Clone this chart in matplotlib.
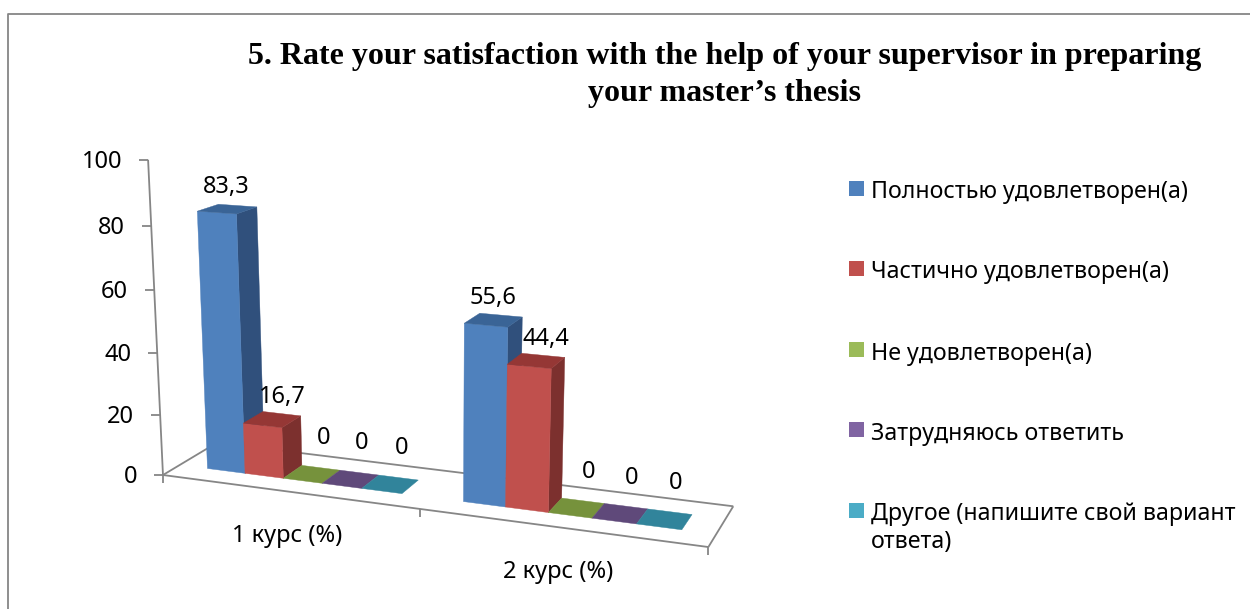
import matplotlib
matplotlib.use('Agg')
import matplotlib.pyplot as plt
from matplotlib.patches import Polygon, Rectangle
import numpy as np

# data
title = '5. Rate your satisfaction with the help of your supervisor in preparing\nyour master\u2019s thesis'
categories = ['1 курс (%)', '2 курс (%)']
series = ['Полностью удовлетворен(а)', 'Частично удовлетворен(а)', 'Не удовлетворен(а)',
          'Затрудняюсь ответить', 'Другое (напишите свой вариант\nответа)']
course1 = [83.3, 16.7, 0, 0, 0]
course2 = [55.6, 44.4, 0, 0, 0]
yticks = [0, 20, 40, 60, 80, 100]

# colours: legend / front, side, top
front = ['#4F81BD', '#C0504D', '#9BBB59', '#8064A2', '#4BACC6']
side = ['#30507C', '#7C302E', '#76923C', '#5F497A', '#31849B']
top = ['#3A6496', '#953735', '#76923C', '#5F497A', '#31849B']
grey = '#868686'

plt.rcParams['font.family'] = ['Noto Sans', 'DejaVu Sans']

# bar layout inside one category (excel 3d defaults: gap 150%)
bar_w = 0.154
bar_start = 0.115
d0, d1 = 0.3, 0.68

# camera fit: (category pos, value, depth) -> pixel on the 1250x609 picture
world = np.array([[0, 0, 0], [2, 0, 0], [2, 0, 1], [0, 0, 1], [0, 100, 0], [0, 60, 0], [0, 20, 0],
                  [1, 0, 0], [1.423, 44.4, d0], [1.423, 0, d0], [0.115, 83.3, d0], [0.115, 0, d0]], float)
pix = np.array([[163, 476], [708, 547], [733, 507], [217, 442], [148, 160], [154, 289], [161, 414],
                [419, 509], [552, 368], [549, 512], [197, 212], [207, 469]], float)
A, b = [], []
for (u, v, d), (x, y) in zip(world, pix):
    v = v / 100
    A.append([u, v, d, 1, 0, 0, 0, 0, -x * u, -x * v, -x * d])
    A.append([0, 0, 0, 0, u, v, d, 1, -y * u, -y * v, -y * d])
    b += [x, y]
P = np.append(np.linalg.lstsq(np.array(A), np.array(b), rcond=None)[0], 1).reshape(3, 4)


def project(u, v, d):
    p = P @ np.array([u, v / 100, d, 1])
    return p[0] / p[2], p[1] / p[2]


fig = plt.figure(figsize=(12.5, 6.09), dpi=100)
ax = fig.add_axes([0, 0, 1, 1])
ax.set_xlim(0, 1250)
ax.set_ylim(609, 0)
ax.axis('off')

# outer frame, only top and left show
ax.plot([7.5, 7.5, 1250], [609, 14, 14], color=grey, lw=1.3, zorder=1)


def grey_line(a, b):
    ax.plot([a[0], b[0]], [a[1], b[1]], color=grey, lw=1.3, zorder=2, solid_capstyle='butt')


# floor
corners = [project(0, 0, 0), project(2, 0, 0), project(2, 0, 1), project(0, 0, 1), project(0, 0, 0)]
for a, b in zip(corners[:-1], corners[1:]):
    grey_line(a, b)
for u in range(3):
    x, y = project(u, 0, 0)
    grey_line((x, y), (x, y + 8))

# value axis
grey_line(project(0, 0, 0), project(0, 100, 0))
for t in yticks:
    x, y = project(0, t, 0)
    grey_line((x - 9, y), (x, y))
    ax.text(x - 26, y + 2, str(t), ha='right', va='center', fontsize=17, color='black')

# bars, left to right so the later ones cover the earlier side faces
label_dx = [-1, 10, 12, 11, 11]
for c, vals in enumerate([course1, course2]):
    for i, val in enumerate(vals):
        u0 = c + bar_start + i * bar_w
        u1 = u0 + bar_w
        z = 3 + c * 5 + i
        if val > 0:
            ax.add_patch(Polygon([project(u1, 0, d0), project(u1, 0, d1), project(u1, val, d1), project(u1, val, d0)],
                                 fc=side[i], ec=side[i], lw=0.3, zorder=z))
            ax.add_patch(Polygon([project(u0, 0, d0), project(u1, 0, d0), project(u1, val, d0), project(u0, val, d0)],
                                 fc=front[i], ec=front[i], lw=0.3, zorder=z))
        ax.add_patch(Polygon([project(u0, val, d0), project(u1, val, d0), project(u1, val, d1), project(u0, val, d1)],
                             fc=top[i], ec=top[i], lw=0.3, zorder=z))
        x, y = project((u0 + u1) / 2, val, (d0 + d1) / 2)
        off = 22 if val > 0 else 36
        txt = ('%g' % val).replace('.', ',')
        ax.text(x + label_dx[i], y - off, txt, ha='center', va='center', fontsize=17, color='black', zorder=30)

# category labels
for i, name in enumerate(categories):
    x, y = project(i + 0.5, 0, 0)
    ax.text(x - 1, y + 44.5, name, ha='center', va='center', fontsize=17, color='black')

# legend
legend_y = [188.5, 268.5, 349.5, 429.5, 510.5]
for i, name in enumerate(series):
    ax.add_patch(Rectangle((849, legend_y[i] - 7.5), 15, 15, fc=front[i], ec='none'))
    ax.text(871, legend_y[i] - 8, name, ha='left', va='top', fontsize=16.7, color='black', linespacing=1.22)

ax.text(725, 75, title, ha='center', va='center', fontsize=23, fontweight='bold',
        family='Liberation Serif', color='black', linespacing=1.36)

fig.savefig('out.png', dpi=100)
